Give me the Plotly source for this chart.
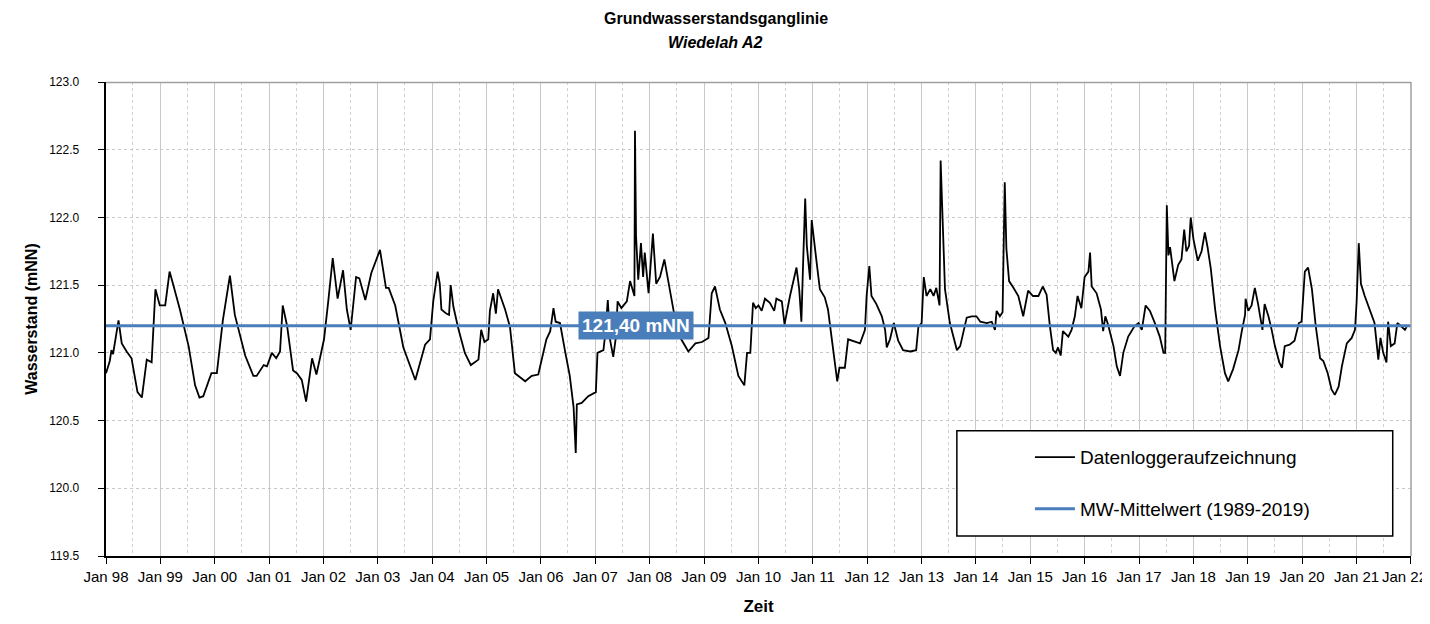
import pandas as pd
import plotly.graph_objects as go

# ---- data (decimal year, water level in mNN) ----
zeit_jahr = [
    1998.00, 1998.07, 1998.10, 1998.13, 1998.23, 1998.29, 1998.38, 1998.47, 1998.58, 1998.66, 1998.75, 1998.84, 1998.91, 1998.99,
    1999.09, 1999.17, 1999.24, 1999.36, 1999.52, 1999.64, 1999.72, 1999.79, 1999.94,
    2000.04, 2000.15, 2000.28, 2000.37, 2000.56, 2000.71, 2000.77, 2000.90, 2000.96,
    2001.05, 2001.13, 2001.20, 2001.25, 2001.33, 2001.44, 2001.51, 2001.60, 2001.68, 2001.79, 2001.87,
    2002.01, 2002.09, 2002.17, 2002.26, 2002.36, 2002.43, 2002.50, 2002.60, 2002.66, 2002.77, 2002.88,
    2003.04, 2003.15, 2003.20, 2003.32, 2003.47, 2003.69, 2003.87,
    2003.96, 2004.02, 2004.10, 2004.14, 2004.17, 2004.26, 2004.31, 2004.34, 2004.39, 2004.48, 2004.60, 2004.71, 2004.85, 2004.90, 2004.96,
    2005.03, 2005.06, 2005.12, 2005.17, 2005.21, 2005.34, 2005.43, 2005.52, 2005.71, 2005.83, 2005.95,
    2006.04, 2006.10, 2006.17, 2006.23, 2006.27, 2006.35, 2006.44, 2006.53, 2006.60, 2006.64, 2006.66, 2006.75, 2006.87,
    2007.01, 2007.04, 2007.15, 2007.18, 2007.23, 2007.27, 2007.33, 2007.38, 2007.41, 2007.48, 2007.58, 2007.64, 2007.72, 2007.73,
    2007.75, 2007.79, 2007.84, 2007.88, 2007.91, 2007.98,
    2008.02, 2008.06, 2008.12, 2008.19, 2008.27, 2008.33, 2008.44, 2008.58, 2008.71, 2008.84, 2008.96,
    2009.08, 2009.14, 2009.20, 2009.29, 2009.39, 2009.51, 2009.63, 2009.74, 2009.79, 2009.85, 2009.90, 2009.95,
    2010.00, 2010.06, 2010.12, 2010.21, 2010.29, 2010.33, 2010.43, 2010.48, 2010.58, 2010.70, 2010.75, 2010.79, 2010.82, 2010.86,
    2010.89, 2010.92, 2010.95, 2010.98,
    2011.01, 2011.07, 2011.13, 2011.22, 2011.28, 2011.34, 2011.41, 2011.45, 2011.49, 2011.59, 2011.65, 2011.74, 2011.87, 2011.96, 2011.99,
    2012.04, 2012.08, 2012.17, 2012.27, 2012.33, 2012.36, 2012.42, 2012.49, 2012.57, 2012.66, 2012.79, 2012.90, 2012.94,
    2013.00, 2013.04, 2013.09, 2013.16, 2013.22, 2013.27, 2013.33, 2013.35, 2013.39, 2013.43, 2013.52, 2013.65, 2013.71, 2013.77, 2013.83, 2013.92,
    2014.01, 2014.08, 2014.20, 2014.29, 2014.35, 2014.38, 2014.44, 2014.49, 2014.53, 2014.56, 2014.61, 2014.69, 2014.78, 2014.87, 2014.96,
    2015.05, 2015.15, 2015.23, 2015.30, 2015.36, 2015.42, 2015.47, 2015.51, 2015.56, 2015.60, 2015.70, 2015.76, 2015.82, 2015.87, 2015.94,
    2016.00, 2016.07, 2016.10, 2016.13, 2016.22, 2016.30, 2016.34, 2016.38, 2016.43, 2016.53, 2016.59, 2016.65, 2016.71, 2016.80, 2016.92, 2016.99,
    2017.05, 2017.12, 2017.20, 2017.29, 2017.38, 2017.45, 2017.48, 2017.51, 2017.54, 2017.57, 2017.65, 2017.72, 2017.78, 2017.83, 2017.87, 2017.92, 2017.95,
    2018.00, 2018.08, 2018.15, 2018.21, 2018.26, 2018.32, 2018.40, 2018.49, 2018.58, 2018.64, 2018.73, 2018.83, 2018.89, 2018.95, 2018.96,
    2019.01, 2019.07, 2019.13, 2019.19, 2019.27, 2019.31, 2019.38, 2019.44, 2019.50, 2019.58, 2019.63, 2019.68, 2019.77, 2019.86, 2019.94, 2019.99,
    2020.05, 2020.11, 2020.18, 2020.25, 2020.33, 2020.39, 2020.47, 2020.54, 2020.60, 2020.67, 2020.73, 2020.82, 2020.91, 2020.97,
    2021.00, 2021.04, 2021.08, 2021.15, 2021.24, 2021.33, 2021.40, 2021.44, 2021.49, 2021.55, 2021.58, 2021.63, 2021.70, 2021.75, 2021.81, 2021.89, 2021.92,
]

wasserstand = [
    120.85, 120.94, 121.02, 120.99, 121.24, 121.07, 121.01, 120.96, 120.71, 120.67, 120.95, 120.93, 121.47, 121.35,
    121.35, 121.60, 121.50, 121.32, 121.05, 120.76, 120.67, 120.68, 120.85,
    120.85, 121.24, 121.57, 121.28, 120.98, 120.83, 120.83, 120.91, 120.90,
    121.00, 120.96, 121.01, 121.35, 121.20, 120.87, 120.85, 120.80, 120.64, 120.96, 120.84,
    121.10, 121.39, 121.70, 121.40, 121.61, 121.32, 121.17, 121.56, 121.55, 121.39, 121.59,
    121.76, 121.48, 121.48, 121.35, 121.04, 120.80, 121.06,
    121.10, 121.38, 121.60, 121.51, 121.32, 121.29, 121.28, 121.50, 121.34, 121.18, 121.00, 120.91, 120.95, 121.17, 121.08,
    121.10, 121.31, 121.44, 121.29, 121.47, 121.32, 121.19, 120.85, 120.79, 120.83, 120.84,
    121.00, 121.10, 121.16, 121.33, 121.23, 121.22, 121.02, 120.83, 120.60, 120.26, 120.62, 120.63, 120.68,
    120.71, 121.00, 121.02, 121.13, 121.39, 121.10, 120.97, 121.12, 121.38, 121.33, 121.38, 121.53, 121.42, 122.64,
    121.86, 121.54, 121.81, 121.56, 121.74, 121.44,
    121.66, 121.88, 121.51, 121.56, 121.69, 121.56, 121.31, 121.10, 121.01, 121.07, 121.08,
    121.11, 121.44, 121.49, 121.32, 121.22, 121.05, 120.83, 120.76, 121.00, 121.00, 121.37, 121.33,
    121.35, 121.31, 121.40, 121.37, 121.31, 121.40, 121.38, 121.21, 121.42, 121.63, 121.47, 121.23, 121.64, 122.14,
    121.79, 121.63, 121.54, 121.98,
    121.89, 121.67, 121.47, 121.41, 121.32, 121.12, 120.93, 120.79, 120.89, 120.89, 121.10, 121.09, 121.07, 121.17, 121.42,
    121.64, 121.42, 121.36, 121.27, 121.17, 121.04, 121.10, 121.22, 121.09, 121.02, 121.01, 121.02, 121.19,
    121.22, 121.56, 121.42, 121.47, 121.42, 121.48, 121.35, 122.42, 121.94, 121.47, 121.22, 121.02, 121.05, 121.16, 121.26, 121.27,
    121.27, 121.23, 121.22, 121.23, 121.17, 121.31, 121.27, 121.30, 122.26, 121.77, 121.53, 121.48, 121.42, 121.27, 121.46,
    121.42, 121.42, 121.49, 121.43, 121.20, 121.02, 121.00, 121.04, 120.98, 121.16, 121.12, 121.17, 121.27, 121.42, 121.33,
    121.56, 121.60, 121.74, 121.49, 121.44, 121.32, 121.16, 121.27, 121.21, 121.05, 120.90, 120.83, 121.00, 121.12, 121.20, 121.22,
    121.17, 121.35, 121.31, 121.22, 121.12, 121.00, 121.00, 122.09, 121.72, 121.78, 121.53, 121.65, 121.69, 121.91, 121.75, 121.79, 122.00,
    121.84, 121.68, 121.75, 121.89, 121.78, 121.62, 121.32, 121.05, 120.85, 120.79, 120.88, 121.02, 121.16, 121.28, 121.40,
    121.31, 121.35, 121.48, 121.36, 121.17, 121.36, 121.27, 121.17, 121.05, 120.93, 120.89, 121.05, 121.06, 121.09, 121.22, 121.23,
    121.60, 121.63, 121.47, 121.20, 120.96, 120.94, 120.85, 120.73, 120.69, 120.75, 120.90, 121.07, 121.11, 121.17,
    121.37, 121.81, 121.51, 121.42, 121.32, 121.22, 120.95, 121.11, 121.00, 120.93, 121.23, 121.05, 121.07, 121.22, 121.20, 121.17, 121.19,
]

mittel_zeit = ["1998-01-01", "2022-01-01"]
mittel_wert = [121.2, 121.2]
mittel_label = "121,40 mNN"

titel = "Grundwasserstandsganglinie"
untertitel = "Wiedelah A2"
letzter_tick = "Jan 22"


def dezimal_zu_datum(d):
    j = int(d)
    start = pd.Timestamp(year=j, month=1, day=1)
    ende = pd.Timestamp(year=j + 1, month=1, day=1)
    return start + (ende - start) * (d - j)


datum = [dezimal_zu_datum(d) for d in zeit_jahr]

BLUE = "#4a7ebb"
SANS = "Liberation Sans, Arial, sans-serif"
NARROW = "Liberation Sans Narrow, Arial Narrow, Liberation Sans, Arial, sans-serif"

fig = go.Figure()
fig.add_trace(go.Scatter(
    x=datum, y=wasserstand, mode="lines", name="Datenloggeraufzeichnung",
    line=dict(color="black", width=1.8), legendgroup="a",
))
fig.add_trace(go.Scatter(
    x=mittel_zeit, y=mittel_wert, mode="lines", name="MW-Mittelwert (1989-2019)",
    line=dict(color=BLUE, width=3.2), legendgroup="b",
))

# legend frame
fig.add_shape(type="rect", xref="paper", yref="paper",
              x0=0.652, x1=0.986, y0=0.042, y1=0.264,
              line=dict(color="black", width=1.5), fillcolor="white", layer="above")

fig.add_annotation(
    x="2007-10-01", y=121.2, text="<b>" + mittel_label + "</b>", showarrow=False,
    font=dict(color="white", size=19, family=SANS), bgcolor=BLUE, borderpad=3,
)

# title lines
fig.add_annotation(xref="paper", yref="paper", x=0.4674, y=1, yanchor="middle", yshift=64,
                   text="<b>" + titel + "</b>", showarrow=False,
                   font=dict(family=NARROW, size=16, color="black"))
fig.add_annotation(xref="paper", yref="paper", x=0.4674, y=1, yanchor="middle", yshift=40,
                   text="<b><i>" + untertitel + "</i></b>", showarrow=False,
                   font=dict(family=NARROW, size=16, color="black"))

# last x tick label (kept inside the page edge)
fig.add_annotation(xref="paper", yref="paper", x=1, y=0, xanchor="right", yanchor="middle",
                   xshift=18, yshift=-20, text=letzter_tick, showarrow=False,
                   font=dict(family=SANS, size=15, color="black"))

fig.update_layout(
    width=1422, height=608,
    margin=dict(l=98, r=19, t=74, b=60),
    paper_bgcolor="white", plot_bgcolor="white",
    showlegend=True,
    legend=dict(
        x=0.708, y=0.2485, xanchor="left", yanchor="top",
        bgcolor="rgba(0,0,0,0)", borderwidth=0,
        font=dict(family=SANS, size=19, color="black"),
        tracegroupgap=24, itemwidth=40,
    ),
    xaxis=dict(
        type="date", range=["1998-01-01", "2022-01-01 12:00"],
        dtick="M12", tick0="1998-01-01", tickformat="%b %y",
        ticks="outside", ticklen=6, tickcolor="black",
        showline=True, linecolor="black", linewidth=1.5, mirror=False,
        showgrid=True, gridcolor="#c8c8c8", gridwidth=1,
        minor=dict(dtick="M6", tick0="1998-01-01", showgrid=True, gridcolor="#d0d0d0",
                   griddash="dot", ticks=""),
        tickfont=dict(family=SANS, size=15, color="black"),
        title=dict(text="<b>Zeit</b>", font=dict(family=NARROW, size=17, color="black"), standoff=16),
        zeroline=False, automargin=False,
    ),
    yaxis=dict(
        range=[119.5, 123.0], dtick=0.5, tickformat=".1f",
        ticks="outside", ticklen=6, tickcolor="black",
        showline=True, linecolor="black", linewidth=1.5,
        showgrid=True, gridcolor="#c8c8c8", griddash="dot", gridwidth=1,
        tickfont=dict(family=NARROW, size=12, color="black"),
        ticksuffix="\u00a0\u00a0\u00a0\u00a0\u00a0",
        title=dict(text="<b>Wasserstand (mNN)</b>", font=dict(family=SANS, size=16, color="black"), standoff=8),
        zeroline=False, automargin=False,
    ),
)

# right and top light frame
fig.add_shape(type="line", xref="paper", yref="paper", x0=1, x1=1, y0=0, y1=1,
              line=dict(color="#a0a0a0", width=1.5))
fig.add_shape(type="line", xref="paper", yref="paper", x0=0, x1=1, y0=0.999, y1=0.999,
              line=dict(color="#a0a0a0", width=1.5))

fig.write_html("out.html")
